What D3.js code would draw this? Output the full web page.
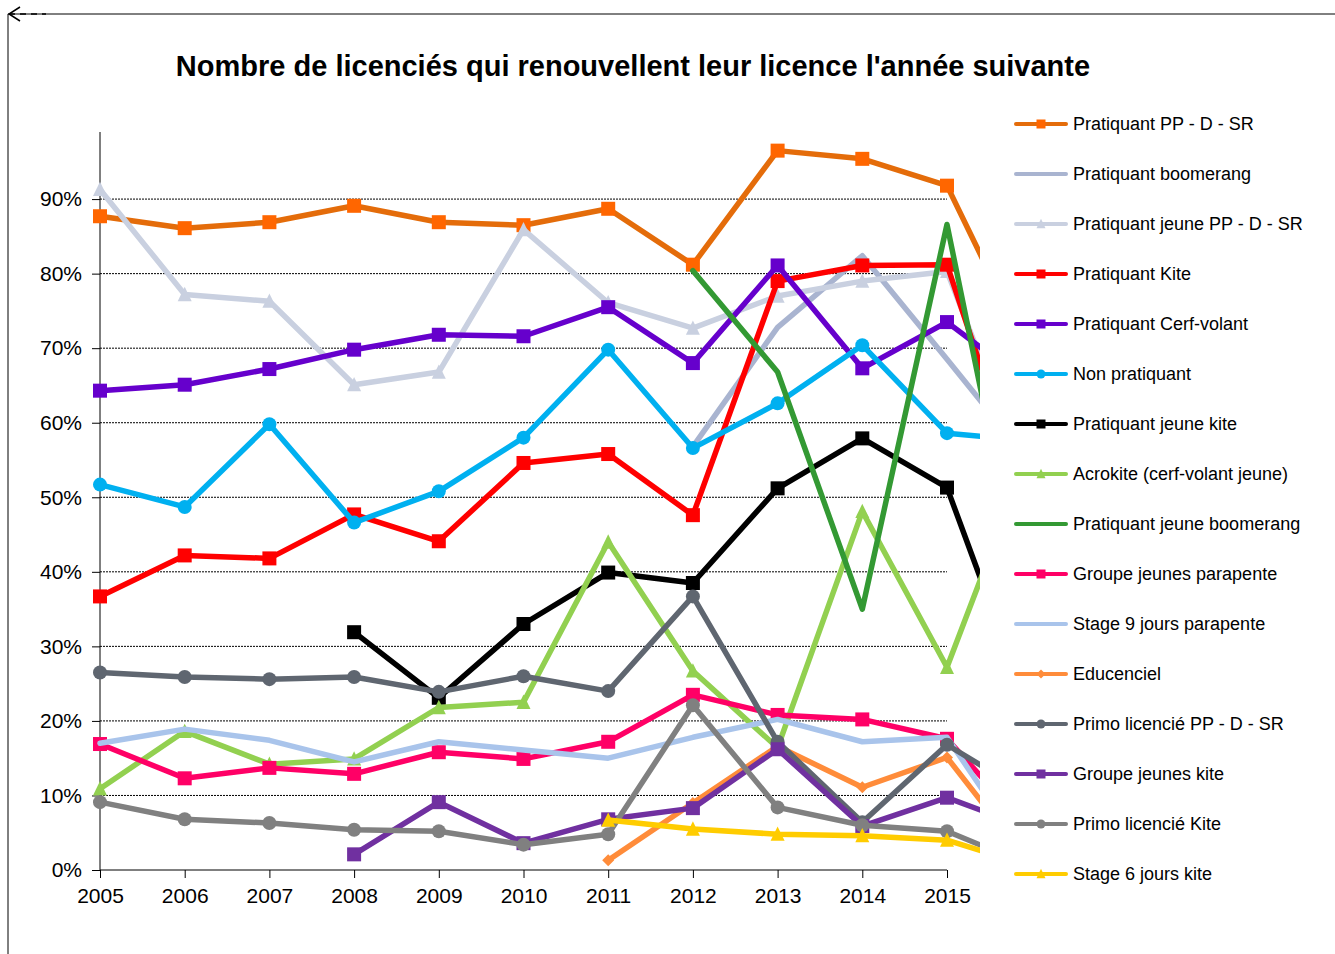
<!DOCTYPE html>
<html>
<head>
<meta charset="utf-8">
<script src="https://cdn.jsdelivr.net/npm/d3@7"></script>
<style>
  body { margin: 0; background: #fff; }
  svg { font-family: "Liberation Sans", Arial, sans-serif; }
</style>
</head>
<body>
<svg id="chart" width="1335" height="954"></svg>
<script>
// Renouvellement des licences, par catégorie (part des licenciés)
const years = [2005, 2006, 2007, 2008, 2009, 2010, 2011, 2012, 2013, 2014, 2015, 2016];
const yTicks = [0, 0.1, 0.2, 0.3, 0.4, 0.5, 0.6, 0.7, 0.8, 0.9];

const names = [
  'Pratiquant PP - D - SR', 'Pratiquant boomerang', 'Pratiquant jeune PP - D - SR',
  'Pratiquant Kite', 'Pratiquant Cerf-volant', 'Non pratiquant', 'Pratiquant jeune kite',
  'Acrokite (cerf-volant jeune)', 'Pratiquant jeune boomerang', 'Groupe jeunes parapente',
  'Stage 9 jours parapente', 'Educenciel', 'Primo licencié PP - D - SR',
  'Groupe jeunes kite', 'Primo licencié Kite', 'Stage 6 jours kite'
];

const ppdsr        = [87.7, 86.1, 86.9, 89.1, 86.9, 86.5, 88.7, 81.2, 96.5, 95.4, 91.8, 68.4];
const boomerang    = [null, null, null, null, null, null, null, 56.8, 72.8, 82.4, 68.5, 54.5];
const jeunePpdsr   = [91.3, 77.2, 76.3, 65.1, 66.8, 85.9, 76.1, 72.7, 77.0, 79.0, 80.3, 51.0];
const kite         = [36.7, 42.2, 41.8, 47.7, 44.1, 54.6, 55.8, 47.6, 79.0, 81.1, 81.2, 47.0];
const cerfVolant   = [64.3, 65.1, 67.2, 69.8, 71.8, 71.6, 75.5, 68.0, 81.1, 67.3, 73.5, 64.9];
const nonPratiq    = [51.7, 48.7, 59.8, 46.6, 50.8, 58.0, 69.8, 56.6, 62.6, 70.4, 58.6, 57.5];
const jeuneKite    = [null, null, null, 31.9, 23.1, 33.0, 39.9, 38.5, 51.2, 57.9, 51.3, 20.5];
const acrokite     = [10.9, 18.6, 14.2, 14.9, 21.8, 22.5, 44.0, 26.7, 16.4, 48.1, 27.2, 57.0];
const jeuneBoom    = [null, null, null, null, null, null, null, 80.4, 66.8, 35.0, 86.6, 31.0];
const grpParapente = [16.9, 12.3, 13.7, 12.9, 15.8, 14.9, 17.2, 23.5, 20.8, 20.2, 17.6, 5.0];
const stage9       = [17.0, 18.9, 17.4, 14.5, 17.2, 16.1, 15.0, 17.8, 20.2, 17.2, 17.8, 1.0];
const educenciel   = [null, null, null, null, null, null, 1.3, 9.0, 16.6, 11.1, 15.1, 0.5];
const primoPpdsr   = [26.5, 25.9, 25.6, 25.9, 23.9, 26.0, 24.0, 36.7, 17.2, 6.4, 16.8, 9.9];
const grpKite      = [null, null, null, 2.1, 9.1, 3.6, 6.8, 8.3, 16.2, 5.9, 9.7, 5.5];
const primoKite    = [9.1, 6.8, 6.3, 5.4, 5.2, 3.4, 4.8, 22.1, 8.4, 6.0, 5.2, 0.5];
const stage6       = [null, null, null, null, null, null, 6.7, 5.5, 4.8, 4.6, 4.0, 0.5];

const values = [ppdsr, boomerang, jeunePpdsr, kite, cerfVolant, nonPratiq, jeuneKite, acrokite,
  jeuneBoom, grpParapente, stage9, educenciel, primoPpdsr, grpKite, primoKite, stage6];

const styles = [
  { line: '#E46C0A', fill: '#FF6600', marker: 'square' },
  { line: '#A9B4D0', fill: null, marker: null },
  { line: '#C9D0E0', fill: '#C9D0E0', marker: 'triangle' },
  { line: '#FF0000', fill: '#FF0000', marker: 'square' },
  { line: '#6600CC', fill: '#6600CC', marker: 'square' },
  { line: '#00B0F0', fill: '#00B0F0', marker: 'circle' },
  { line: '#000000', fill: '#000000', marker: 'square' },
  { line: '#92D050', fill: '#92D050', marker: 'triangle' },
  { line: '#339933', fill: null, marker: null },
  { line: '#FF0066', fill: '#FF0066', marker: 'square' },
  { line: '#A9C4EB', fill: null, marker: null },
  { line: '#FF8C3A', fill: '#FF8C3A', marker: 'diamond' },
  { line: '#5F6670', fill: '#5F6670', marker: 'circle' },
  { line: '#7030A0', fill: '#7030A0', marker: 'square' },
  { line: '#808080', fill: '#808080', marker: 'circle' },
  { line: '#FFCC00', fill: '#FFCC00', marker: 'triangle' }
];

const svg = d3.select('#chart');

// frame + little arrow at the top-left
svg.append('line').attr('x1', 8).attr('y1', 14).attr('x2', 1335).attr('y2', 14).attr('stroke', '#000');
svg.append('line').attr('x1', 8).attr('y1', 14).attr('x2', 8).attr('y2', 954).attr('stroke', '#000');
svg.append('path').attr('d', 'M 20,7 L 9,14 L 20,21').attr('fill', 'none').attr('stroke', '#000').attr('stroke-width', 1.5);
svg.append('line').attr('x1', 9).attr('y1', 14).attr('x2', 46).attr('y2', 14)
  .attr('stroke', '#000').attr('stroke-width', 1.5).attr('stroke-dasharray', '6,5');

svg.append('text').attr('x', 633).attr('y', 76).attr('text-anchor', 'middle')
  .attr('font-size', '29px').attr('font-weight', 'bold')
  .text("Nombre de licenciés qui renouvellent leur licence l'année suivante");

const x = d3.scaleLinear().domain([2005, 2015]).range([100, 947]);
const y = d3.scaleLinear().domain([0, 0.99]).range([870, 132]);

// gridlines
svg.append('g').selectAll('line').data(yTicks.slice(1)).enter().append('line')
  .attr('x1', 100).attr('x2', 947).attr('y1', d => y(d)).attr('y2', d => y(d))
  .attr('stroke', '#000').attr('stroke-width', 1).attr('stroke-dasharray', '2,1');

// axes
const yAxis = svg.append('g').attr('transform', 'translate(100,0)')
  .call(d3.axisLeft(y).tickValues(yTicks).tickFormat(d3.format('.0%')).tickSize(8).tickPadding(10));
const xAxis = svg.append('g').attr('transform', 'translate(0,870)')
  .call(d3.axisBottom(x).tickValues(years.slice(0, 11)).tickFormat(d3.format('d')).tickSize(8).tickPadding(6));
yAxis.select('.domain').attr('d', 'M0,132V870');
xAxis.select('.domain').attr('d', 'M100,0H947');
[yAxis, xAxis].forEach(a => {
  a.selectAll('text').attr('font-size', '21px').attr('fill', '#000').attr('font-family', '"Liberation Sans", Arial, sans-serif');
  a.selectAll('line').attr('stroke', '#000');
  a.select('.domain').attr('stroke', '#000');
});
xAxis.selectAll('text').attr('dy', '0.9em');

// clip lines at the right edge like the original capture
svg.append('defs').append('clipPath').attr('id', 'plotclip')
  .append('rect').attr('x', 0).attr('y', 100).attr('width', 980).attr('height', 800);

const line = d3.line()
  .defined(d => d.v != null)
  .x(d => x(d.year)).y(d => y(d.v / 100));

function drawMarker(g, type, cx, cy, fill, s) {
  if (type === 'square') {
    g.append('rect').attr('x', cx - s / 2).attr('y', cy - s / 2).attr('width', s).attr('height', s).attr('fill', fill);
  } else if (type === 'circle') {
    g.append('circle').attr('cx', cx).attr('cy', cy).attr('r', s / 2).attr('fill', fill);
  } else if (type === 'triangle') {
    const h = s * 0.95;
    g.append('path').attr('d', `M${cx},${cy - h / 2 - 1} L${cx + s / 2},${cy + h / 2} L${cx - s / 2},${cy + h / 2} Z`).attr('fill', fill);
  } else if (type === 'diamond') {
    g.append('path').attr('d', `M${cx},${cy - s / 2} L${cx + s / 2},${cy} L${cx},${cy + s / 2} L${cx - s / 2},${cy} Z`).attr('fill', fill);
  }
}

const plot = svg.append('g').attr('clip-path', 'url(#plotclip)');
values.forEach((vals, i) => {
  const st = styles[i];
  const pts = years.map((year, j) => ({ year, v: vals[j] }));
  const g = plot.append('g');
  g.append('path').datum(pts).attr('d', line)
    .attr('fill', 'none').attr('stroke', st.line).attr('stroke-width', 5.5)
    .attr('stroke-linejoin', 'round').attr('stroke-linecap', 'round');
  if (st.marker) {
    pts.filter(p => p.v != null).forEach(p => {
      const size = st.marker === 'circle' ? 14 : st.marker === 'diamond' ? 12 : 14;
      drawMarker(g, st.marker, x(p.year), y(p.v / 100), st.fill, size);
    });
  }
});

// legend
const legend = svg.append('g');
names.forEach((name, i) => {
  const st = styles[i];
  const ly = 124 + i * 50;
  const lg = legend.append('g');
  lg.append('line').attr('x1', 1016).attr('x2', 1066).attr('y1', ly).attr('y2', ly)
    .attr('stroke', st.line).attr('stroke-width', 4).attr('stroke-linecap', 'round');
  if (st.marker) drawMarker(lg, st.marker, 1041, ly, st.fill, 9);
  lg.append('text').attr('x', 1073).attr('y', ly).attr('dy', '0.35em')
    .attr('font-size', '18px').attr('fill', '#000').text(name);
});
</script>
</body>
</html>
